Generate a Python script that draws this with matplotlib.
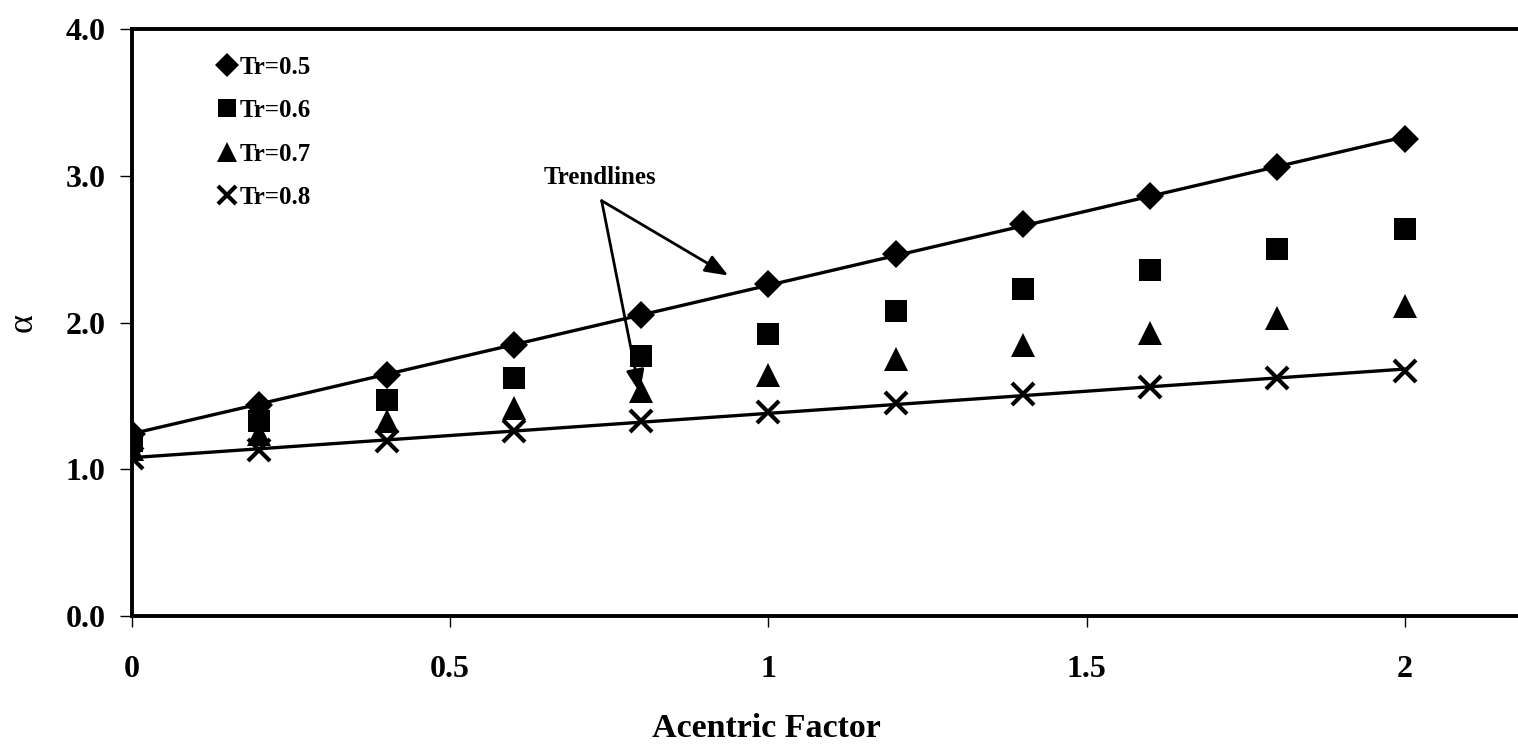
import numpy as np
import matplotlib
matplotlib.use("Agg")
import matplotlib.pyplot as plt

omega = [0.0, 0.2, 0.4, 0.6, 0.8, 1.0, 1.2, 1.4, 1.6, 1.8, 2.0]
alpha_tr05 = [1.24, 1.44, 1.64, 1.85, 2.05, 2.26, 2.47, 2.67, 2.86, 3.06, 3.25]
alpha_tr06 = [1.19, 1.33, 1.47, 1.62, 1.77, 1.92, 2.08, 2.23, 2.36, 2.50, 2.64]
alpha_tr07 = [1.14, 1.24, 1.33, 1.42, 1.53, 1.64, 1.75, 1.85, 1.93, 2.03, 2.11]
alpha_tr08 = [1.08, 1.13, 1.19, 1.26, 1.33, 1.39, 1.45, 1.51, 1.56, 1.62, 1.67]
labels = ["Tr=0.5", "Tr=0.6", "Tr=0.7", "Tr=0.8"]
xticks = [0, 0.5, 1, 1.5, 2]
xticklabels = ["0", "0.5", "1", "1.5", "2"]
yticks = [0.0, 1.0, 2.0, 3.0, 4.0]

plt.rcParams['font.family'] = ['Liberation Serif', 'DejaVu Serif']
plt.rcParams['font.weight'] = 'bold'

fig = plt.figure(figsize=(15.18, 7.56), dpi=100)
ax = fig.add_axes([132/1518, 140/756, 1400/1518, 587/756])

x = np.array(omega)
series = [alpha_tr05, alpha_tr06, alpha_tr07, alpha_tr08]
markers = ['D', 's', '^', 'x']
sizes = [14, 16, 17, 16]
for y, m, ms, lab in zip(series, markers, sizes, labels):
    kw = dict(markeredgewidth=3) if m == 'x' else dict(markeredgewidth=0)
    ax.plot(x, y, linestyle='none', marker=m, markersize=ms, color='black',
            label=lab, zorder=3, **kw)

# trendlines for Tr=0.5 and Tr=0.8
for y in (alpha_tr05, alpha_tr08):
    c = np.polyfit(x, np.array(y), 1)
    xx = np.array([omega[0], omega[-1]])
    ax.plot(xx, np.polyval(c, xx), color='black', linewidth=2.4, zorder=2)

ax.set_xlim(0, 2.2)
ax.set_ylim(0, 4.0)
ax.set_xticks(xticks)
ax.set_xticklabels(xticklabels)
ax.set_yticks(yticks)
ax.set_yticklabels([f"{v:.1f}" for v in yticks])
ax.tick_params(axis='x', direction='out', length=8, width=1, pad=20, labelsize=23)
ax.tick_params(axis='y', direction='out', length=9, width=1, pad=10, labelsize=23)
for s in ['left', 'top', 'bottom', 'right']:
    ax.spines[s].set_linewidth(2.8)

ax.set_xlabel("Acentric Factor", fontsize=24.5, fontweight='bold')
ax.xaxis.set_label_coords(0.453, -0.165)
ax.set_ylabel("α", fontsize=26, fontweight='normal')
ax.yaxis.set_label_coords(-0.066, 0.50)

# annotation
ax.text(0.735, 2.99, "Trendlines", fontsize=18, fontweight='bold',
        ha='center', va='center')
ap = dict(arrowstyle='-|>,head_length=1.4,head_width=0.55', color='black', lw=2,
          shrinkA=0, shrinkB=0)
ax.annotate("", xy=(0.937, 2.32), xytext=(0.738, 2.83), arrowprops=ap)
ax.annotate("", xy=(0.798, 1.52), xytext=(0.738, 2.83), arrowprops=ap)

leg = ax.legend(loc='upper left', bbox_to_anchor=(0.051, 0.976), frameon=False,
                prop={'family': 'Liberation Serif', 'weight': 'bold', 'size': 18},
                handlelength=0.9, handletextpad=0.05, labelspacing=0.82,
                borderpad=0, markerscale=0.85)

fig.savefig("out.png", dpi=100)
